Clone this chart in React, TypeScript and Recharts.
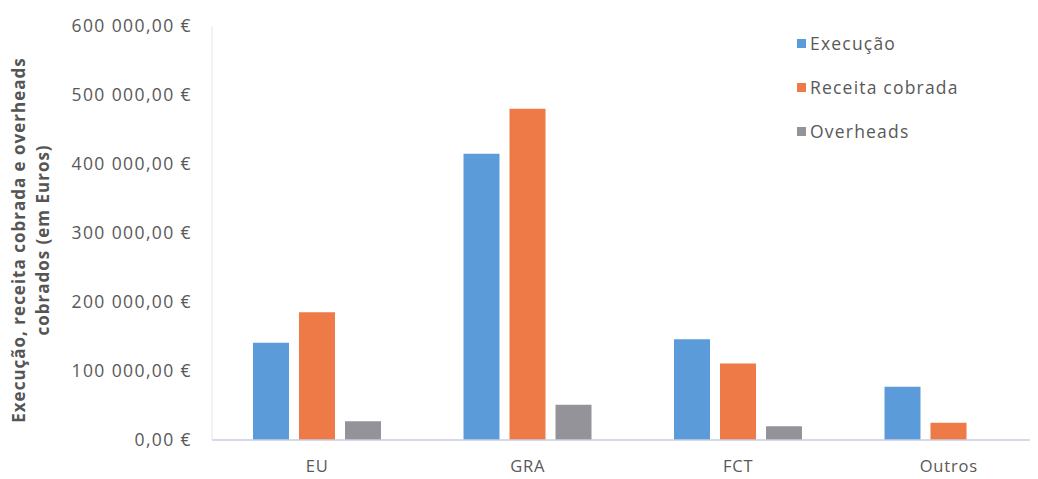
import React from 'react';
import { BarChart, Bar, XAxis, YAxis, Legend } from 'recharts';

const categories = ['EU', 'GRA', 'FCT', 'Outros'];
const execucao = [141000, 415000, 146000, 77000];
const receitaCobrada = [185000, 480000, 111000, 25000];
const overheads = [27000, 51000, 20000, 0];
const yTicks = [0, 100000, 200000, 300000, 400000, 500000, 600000];

const seriesNames = ['Execução', 'Receita cobrada', 'Overheads'];
const seriesColors = ['#5b9bd9', '#ee7b47', '#939399'];

const data = categories.map((name, i) => ({
  name,
  execucao: execucao[i],
  receita: receitaCobrada[i],
  overheads: overheads[i],
}));

const FONT = '"Open Sans", "Liberation Sans", sans-serif';
const TEXT = '#595959';

const formatEuro = (v: number) => {
  const intPart = Math.round(v)
    .toString()
    .replace(/\B(?=(\d{3})+(?!\d))/g, ' ');
  return `${intPart},00 €`;
};

const AxisTitle = () => {
  const cy = 232;
  const lines = [
    { x: 10, text: 'Execução, receita cobrada e overheads' },
    { x: 34, text: 'cobrados (em Euros)' },
  ];
  return (
    <g>
      {lines.map((l) => (
        <text
          key={l.text}
          x={l.x}
          y={cy}
          transform={`rotate(-90, ${l.x}, ${cy})`}
          textAnchor="middle"
          dominantBaseline="central"
          fontFamily={FONT}
          fontWeight={700}
          fontSize={17}
          letterSpacing={1}
          fill="#555555"
        >
          {l.text}
        </text>
      ))}
    </g>
  );
};

const LegendContent = () => (
  <div style={{ fontFamily: FONT }}>
    {seriesNames.map((n, i) => (
      <div
        key={n}
        style={{ display: 'flex', alignItems: 'center', height: 44 }}
      >
        <span
          style={{
            display: 'inline-block',
            width: 9,
            height: 9,
            background: seriesColors[i],
            marginRight: 4,
          }}
        />
        <span style={{ fontSize: 17.5, color: TEXT, letterSpacing: 1.2 }}>{n}</span>
      </div>
    ))}
  </div>
);

export default function App() {
  return (
    <div style={{ width: 1030, height: 471, overflow: 'hidden' }}>
      <BarChart
        width={1046}
        height={471}
        data={data}
        margin={{ top: 18, right: 0, bottom: 0, left: 0 }}
        barCategoryGap={41}
        barGap={10}
        barSize={36}
      >
        <XAxis
          dataKey="name"
          tickLine={false}
          tickSize={0}
          tickMargin={20}
          height={39}
          axisLine={{ stroke: '#c9cde0', strokeWidth: 1.5 }}
          tick={{ fill: TEXT, fontSize: 16.5, fontFamily: FONT, letterSpacing: 0.8 }}
        />
        <YAxis
          width={204}
          domain={[0, 600000]}
          ticks={yTicks}
          interval={0}
          tickFormatter={formatEuro}
          tickLine={false}
          tickSize={0}
          tickMargin={20}
          axisLine={{ stroke: '#e6e6ee', strokeWidth: 1 }}
          tick={{ fill: TEXT, fontSize: 17.5, fontFamily: FONT, letterSpacing: 1.4 }}
          label={{ content: () => <AxisTitle /> }}
        />
        <Legend
          layout="vertical"
          align="center"
          verticalAlign="middle"
          wrapperStyle={{ left: 789, top: 13, width: 220 }}
          content={() => <LegendContent />}
        />
        <Bar dataKey="execucao" name={seriesNames[0]} fill={seriesColors[0]} isAnimationActive={false} />
        <Bar dataKey="receita" name={seriesNames[1]} fill={seriesColors[1]} isAnimationActive={false} />
        <Bar dataKey="overheads" name={seriesNames[2]} fill={seriesColors[2]} isAnimationActive={false} />
      </BarChart>
    </div>
  );
}
